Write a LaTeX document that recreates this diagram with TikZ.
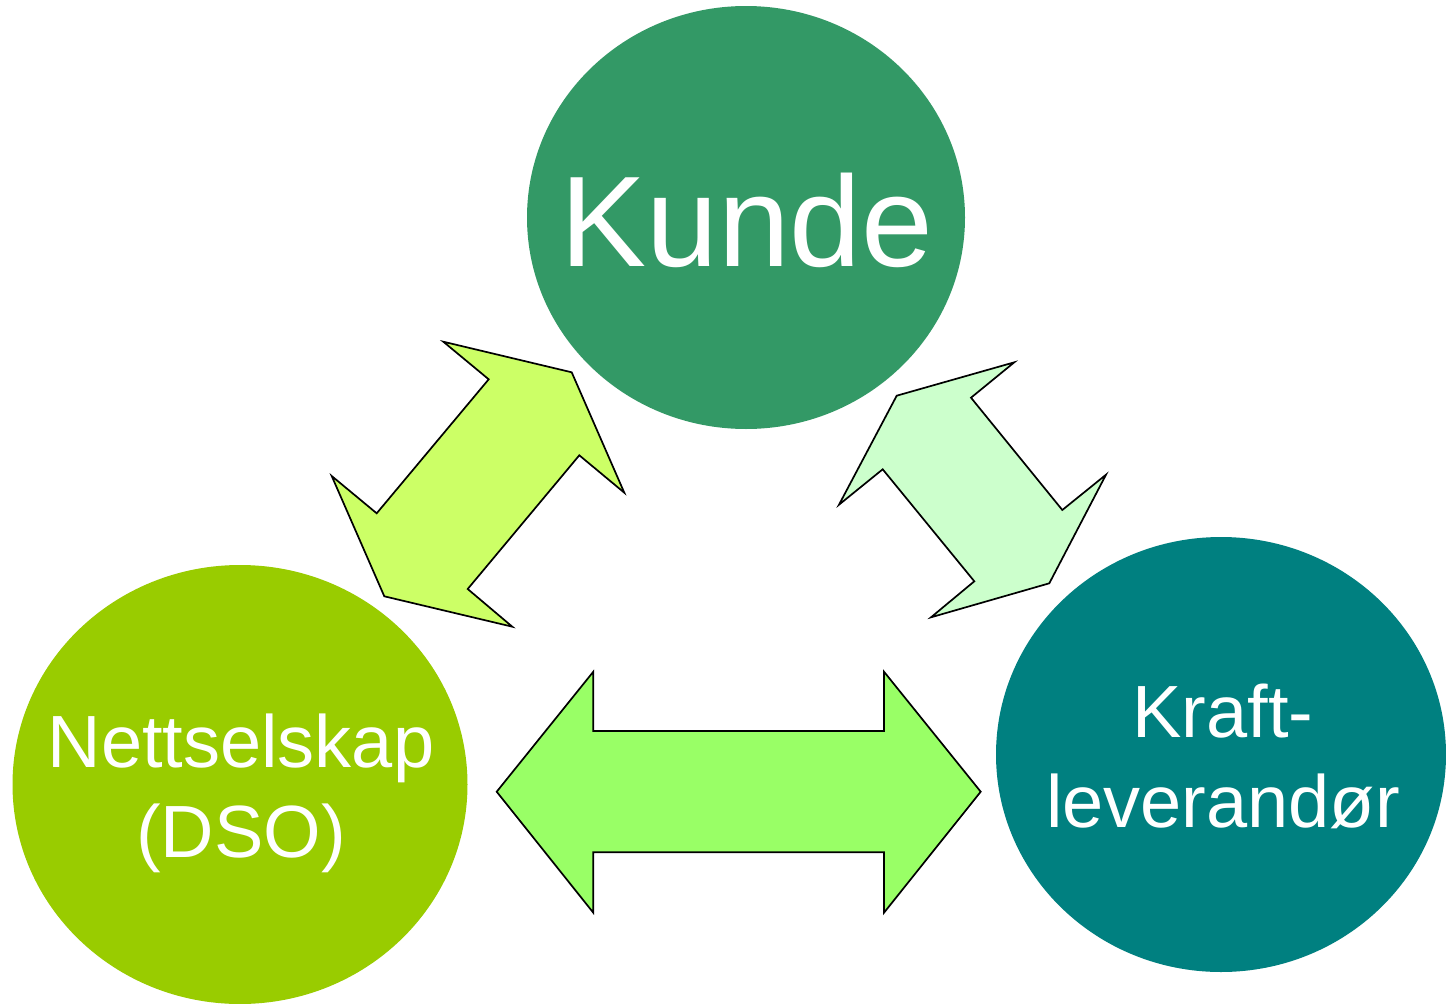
\documentclass[tikz,border=0pt]{standalone}
\usepackage{fontspec}
\setmainfont{Liberation Sans}
\usetikzlibrary{shapes.geometric}
\definecolor{kundegreen}{HTML}{339966}
\definecolor{dsogreen}{HTML}{99CC00}
\definecolor{krafteal}{HTML}{008080}
\definecolor{arrowA}{HTML}{CCFF66}
\definecolor{arrowB}{HTML}{CCFFCC}
\definecolor{arrowC}{HTML}{99FF66}
\tikzset{
  party/.style={ellipse, draw=none, inner sep=0pt, outer sep=0pt},
  bigtext/.style={text=white, anchor=base, inner sep=0pt, font=\fontsize{129}{155}\selectfont},
  midtext/.style={text=white, anchor=base, inner sep=0pt, font=\fontsize{74}{90}\selectfont},
  blockarrow/.style={draw=black, line width=1.7pt, line join=miter}
}
\begin{document}
\begin{tikzpicture}[x=1pt,y=-1pt]
\useasboundingbox[fill=white] (0,0) rectangle (1446,1004);
% parties
\node[party, fill=kundegreen, minimum width=438pt, minimum height=423pt] (kunde) at (746,217.5) {};
\node[party, fill=dsogreen, minimum width=455pt, minimum height=439pt] (dso) at (240,784.5) {};
\node[party, fill=krafteal, minimum width=450pt, minimum height=435pt] (kraft) at (1221,754.5) {};
% labels
\node[bigtext] (kundetxt) at (747,266) {Kunde};
\node[midtext] (dso1) at (241,767) {Nettselskap};
\node[midtext] (dso2) at (241,857) {(DSO)};
\node[midtext] (kraft1) at (1223,737) {Kraft-};
\node[midtext] (kraft2) at (1223,827) {leverandør};
% arrows
\draw[blockarrow, fill=arrowA]
  (443.3,341.7) -- (571.7,372.3) -- (624.3,492.7) -- (579.3,455.3)
  -- (467.7,589) -- (512.3,626.7) -- (384.3,596.3) -- (331.7,476)
  -- (376.7,513.3) -- (488.7,379.3) -- cycle;
\draw[blockarrow, fill=arrowB]
  (1014.3,362.3) -- (971,397.7) -- (1062.3,510) -- (1106,474.7)
  -- (1049.3,583.3) -- (931,617.3) -- (974.3,581.3) -- (882.7,469.3)
  -- (839,504.7) -- (896.7,395.7) -- cycle;
\draw[blockarrow, fill=arrowC]
  (496.7,791.7) -- (593.3,671.7) -- (593.3,731) -- (884,731) -- (884,671.7)
  -- (980.7,791.7) -- (884,912.7) -- (884,852.3) -- (593.3,852.3)
  -- (593.3,912.7) -- cycle;
\end{tikzpicture}
\end{document}
